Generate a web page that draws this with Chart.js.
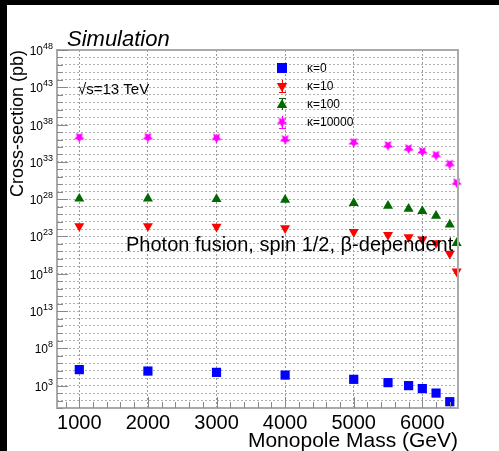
<!DOCTYPE html>
<html>
<head>
<meta charset="utf-8">
<script src="https://cdn.jsdelivr.net/npm/chart.js@4.4.1/dist/chart.umd.min.js"></script>
<style>
  html, body { margin: 0; padding: 0; background: #fff; }
  canvas { display: block; }
</style>
</head>
<body>
<canvas id="myChart" width="499" height="451"></canvas>
<script>
(function() {

    'use strict';

    // monopole masses (GeV)
    var masses = [1000, 2000, 3000, 4000, 5000, 5500, 5800, 6000, 6200, 6400, 6500];

    // cross-sections (pb)
    var kappa0 = [1.4e5, 9e4, 6e4, 2.6e4, 7e3, 2.5e3, 1e3, 4e2, 1e2, 7, null];
    var kappa10 = [2.5e24, 2.5e24, 2e24, 1.3e24, 4e23, 1.6e23, 8e22, 4e22, 1.3e22, 5e20, 2e18];
    var kappa100 = [1.15e28, 1.2e28, 1e28, 8e27, 3e27, 1.3e27, 5e26, 2.5e26, 6e25, 4e24, 1.3e22];
    var kappa10000 = [2e36, 2e36, 1.6e36, 1e36, 4e35, 1.6e35, 6e34, 2.5e34, 8e33, 5e32, 1.6e30];

    var seriesLabels = ['\u03ba=0', '\u03ba=10', '\u03ba=100', '\u03ba=10000'];
    var xTickValues = [1000, 2000, 3000, 4000, 5000, 6000];
    var yLabelExponents = [3, 8, 13, 18, 23, 28, 33, 38, 43, 48];

    var FONT = '"Liberation Sans", Arial, Helvetica, sans-serif';
    var colors = ['#0000ff', '#ff0000', '#006a00', '#ff00ff'];

    function toPoints(values) {
        var pts = [];
        for (var i = 0; i < masses.length; i++) {
            if (values[i] !== null) pts.push({ x: masses[i], y: values[i] });
        }
        return pts;
    }

    // filled five point star, used as point style for kappa=10000
    function starImage(size, color) {
        var c = document.createElement('canvas');
        c.width = size; c.height = size;
        var g = c.getContext('2d');
        var cx = size / 2, cy = size / 2, R = size / 2, r = R * 0.5;
        g.beginPath();
        for (var i = 0; i < 10; i++) {
            var rad = (i % 2 === 0) ? R : r;
            var a = Math.PI / 2 + i * Math.PI / 5;
            g.lineTo(cx + rad * Math.cos(a), cy + rad * Math.sin(a));
        }
        g.closePath();
        g.fillStyle = color;
        g.fill();
        return c;
    }
    var star = starImage(11, colors[3]);

    function triangle(ctx, x, y, r, down) {
        var s = down ? -1 : 1;
        ctx.beginPath();
        ctx.moveTo(x, y - s * r);
        ctx.lineTo(x - r * 0.87, y + s * r * 0.5);
        ctx.lineTo(x + r * 0.87, y + s * r * 0.5);
        ctx.closePath();
        ctx.fill();
    }

    var decor = {
        id: 'decor',
        beforeDraw: function(chart) {
            var ctx = chart.ctx;
            ctx.save();
            ctx.fillStyle = '#ffffff';
            ctx.fillRect(0, 0, chart.width, chart.height);
            ctx.fillStyle = '#000000';
            ctx.fillRect(0, 0, 7, chart.height);
            ctx.fillRect(0, 0, chart.width, 5);
            ctx.restore();
        },
        afterDraw: function(chart) {
            var ctx = chart.ctx;
            var a = chart.chartArea;
            var xs = chart.scales.x, ys = chart.scales.y;
            ctx.save();

            // frame
            ctx.strokeStyle = '#aaaaaa';
            ctx.lineWidth = 2;
            ctx.strokeRect(a.left, a.top, a.right - a.left, a.bottom - a.top);

            // axis tick marks
            ctx.strokeStyle = '#888888';
            ctx.lineWidth = 1;
            ctx.beginPath();
            for (var e = 0; e <= 48; e++) {
                var py = Math.round(ys.getPixelForValue(Math.pow(10, e))) + 0.5;
                var len = (e % 5 === 3) ? 11 : 6;
                ctx.moveTo(a.left, py);
                ctx.lineTo(a.left + len, py);
            }
            for (var m = 800; m <= 6400; m += 200) {
                var px = Math.round(xs.getPixelForValue(m)) + 0.5;
                var l = (m % 1000 === 0) ? 11 : 6;
                ctx.moveTo(px, a.bottom);
                ctx.lineTo(px, a.bottom - l);
            }
            ctx.stroke();

            // y tick labels 10^n
            ctx.fillStyle = '#000';
            ctx.textBaseline = 'alphabetic';
            yLabelExponents.forEach(function(n) {
                var py = ys.getPixelForValue(Math.pow(10, n));
                ctx.font = '9px ' + FONT;
                ctx.textAlign = 'right';
                var ew = ctx.measureText(String(n)).width;
                ctx.fillText(String(n), 53, py - 1);
                ctx.font = '12px ' + FONT;
                ctx.fillText('10', 53 - ew, py + 5);
            });

            // titles
            ctx.font = 'italic 22px ' + FONT;
            ctx.textAlign = 'left';
            ctx.fillText('Simulation', 67, 46);

            ctx.font = '21px ' + FONT;
            ctx.textAlign = 'right';
            ctx.fillText('Monopole Mass (GeV)', a.right, 447);

            ctx.save();
            ctx.translate(23, a.top);
            ctx.rotate(-Math.PI / 2);
            ctx.font = '18px ' + FONT;
            ctx.textAlign = 'right';
            ctx.fillText('Cross-section (pb)', 0, 0);
            ctx.restore();

            ctx.font = '15px ' + FONT;
            ctx.textAlign = 'left';
            ctx.fillText('\u221as=13 TeV', 78, 94);

            ctx.font = '20px ' + FONT;
            ctx.fillText('Photon fusion, spin 1/2, \u03b2-dependent', 126, 251);

            // legend
            var ly = [68, 86, 104, 122];
            var lx = 282;
            ctx.font = '12px ' + FONT;
            ctx.textAlign = 'left';
            ctx.textBaseline = 'middle';
            for (var i = 0; i < 4; i++) {
                ctx.fillStyle = colors[i];
                ctx.strokeStyle = colors[i];
                ctx.lineWidth = 1;
                if (i === 0) {
                    ctx.fillRect(lx - 5, ly[i] - 5, 10, 10);
                } else {
                    ctx.beginPath();
                    ctx.moveTo(lx + 0.5, ly[i] - 6);
                    ctx.lineTo(lx + 0.5, ly[i] + 6);
                    ctx.moveTo(lx - 3, ly[i] + (i === 2 ? -6 : 6) + 0.5);
                    ctx.lineTo(lx + 4, ly[i] + (i === 2 ? -6 : 6) + 0.5);
                    ctx.stroke();
                    if (i === 1) triangle(ctx, lx, ly[i], 6, true);
                    if (i === 2) triangle(ctx, lx, ly[i] + 1, 6, false);
                    if (i === 3) ctx.drawImage(star, lx - 5.5, ly[i] - 5.5);
                }
                ctx.fillStyle = '#000';
                ctx.fillText(seriesLabels[i], 307, ly[i] + 1);
            }
            ctx.restore();
        }
    };

    var ctx = document.getElementById('myChart');
    var myChart = new Chart(ctx, {
        type: 'scatter',
        data: {
            datasets: [ {
                label: seriesLabels[0],
                data: toPoints(kappa0),
                pointStyle: 'rect',
                pointRadius: 6.5,
                backgroundColor: colors[0],
                borderColor: colors[0],
                borderWidth: 0
            }, {
                label: seriesLabels[1],
                data: toPoints(kappa10),
                pointStyle: 'triangle',
                rotation: 180,
                pointRadius: 5.8,
                backgroundColor: colors[1],
                borderColor: colors[1],
                borderWidth: 0
            }, {
                label: seriesLabels[2],
                data: toPoints(kappa100),
                pointStyle: 'triangle',
                pointRadius: 5.8,
                backgroundColor: colors[2],
                borderColor: colors[2],
                borderWidth: 0
            }, {
                label: seriesLabels[3],
                data: toPoints(kappa10000),
                pointStyle: star,
                backgroundColor: colors[3],
                borderColor: colors[3]
            } ]
        },
        options: {
            responsive: false,
            animation: false,
            devicePixelRatio: 1,
            clip: false,
            layout: {
                padding: { left: 0, top: 50, right: 41, bottom: 0 }
            },
            plugins: {
                legend: { display: false },
                tooltip: { enabled: false }
            },
            scales: {
                x: {
                    type: 'linear',
                    min: 675,
                    max: 6520,
                    afterBuildTicks: function(scale) {
                        scale.ticks = xTickValues.map(function(v) { return { value: v }; });
                    },
                    afterFit: function(scale) { scale.height = 43; },
                    ticks: {
                        color: '#000',
                        font: { family: FONT, size: 20 },
                        padding: 3,
                        maxRotation: 0,
                        autoSkip: false,
                        callback: function(v) { return String(v); }
                    },
                    grid: { color: '#999999', drawTicks: false, lineWidth: 1 },
                    border: { display: false, dash: [2, 2] }
                },
                y: {
                    type: 'logarithmic',
                    min: 1,
                    max: 1e48,
                    afterBuildTicks: function(scale) {
                        var t = [];
                        for (var e = 0; e <= 48; e++) t.push({ value: Math.pow(10, e) });
                        scale.ticks = t;
                    },
                    afterFit: function(scale) { scale.width = 57; },
                    ticks: { display: false },
                    grid: { color: '#b0b0b0', drawTicks: false, lineWidth: 1 },
                    border: { display: false, dash: [2, 2] }
                }
            }
        },
        plugins: [decor]
    });

})();
</script>
</body>
</html>
